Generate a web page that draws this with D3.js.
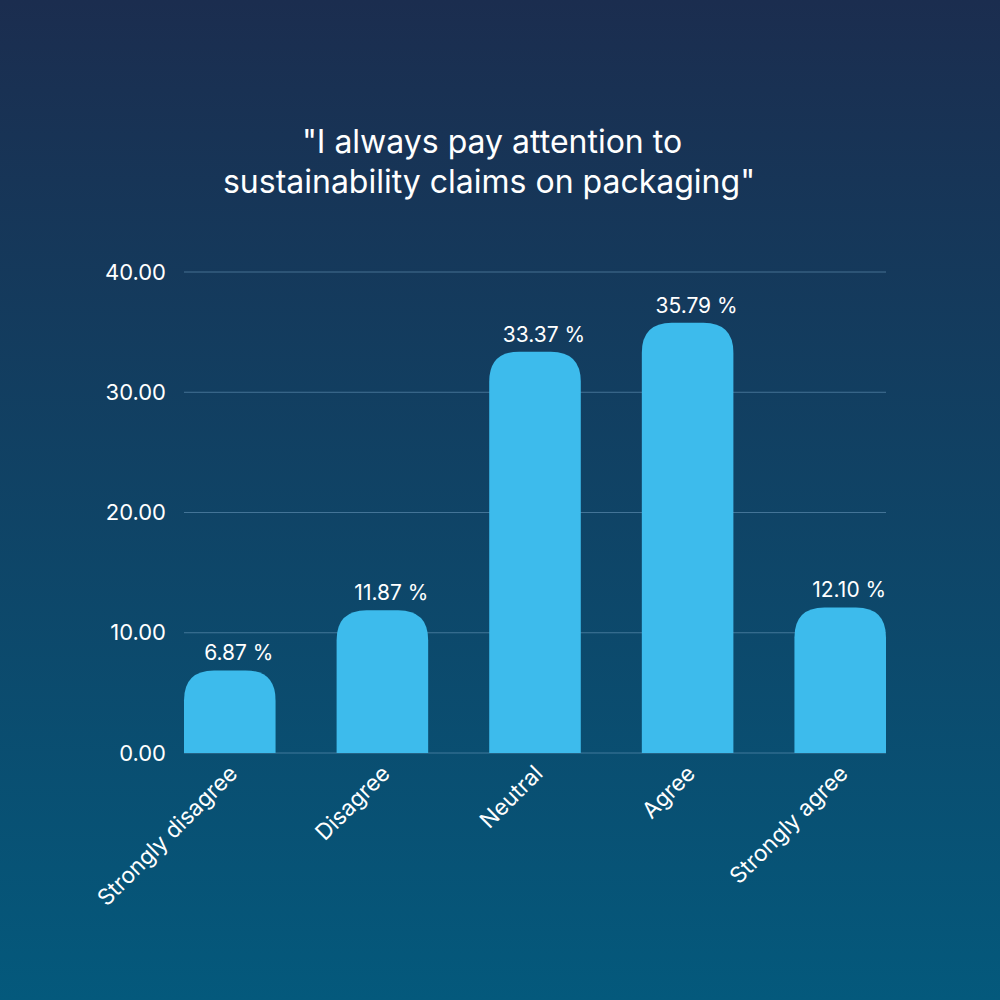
<!DOCTYPE html>
<html>
<head>
    <title>Sustainability claims on packaging</title>
    <script src="https://d3js.org/d3.v7.min.js"></script>
    <style>
        body {
            margin: 0;
            background: #1b2e50;
        }
        svg text {
            font-family: Inter, "Open Sans", sans-serif;
            font-weight: 400;
            fill: #fff;
        }
    </style>
</head>
<body>
    <div id="chart"></div>

    <script>
        // Survey answers and share of respondents (%)
        const categories = ["Strongly disagree", "Disagree", "Neutral", "Agree", "Strongly agree"];
        const shares = [6.87, 11.87, 33.37, 35.79, 12.10];
        const yTicks = [0, 10, 20, 30, 40];
        const titleLines = ["\"I always pay attention to", "sustainability claims on packaging\""];

        const width = 1000;
        const height = 1000;
        const margin = {top: 272, right: 114, bottom: 247, left: 184};

        const svg = d3.select("#chart")
            .append("svg")
            .attr("width", width)
            .attr("height", height);

        // Background gradient
        const grad = svg.append("defs")
            .append("linearGradient")
            .attr("id", "bg")
            .attr("x1", 0).attr("y1", 0)
            .attr("x2", 0).attr("y2", 1);
        grad.append("stop").attr("offset", "0%").attr("stop-color", "#1b2d4f");
        grad.append("stop").attr("offset", "100%").attr("stop-color", "#04597c");

        svg.append("rect")
            .attr("width", width)
            .attr("height", height)
            .attr("fill", "url(#bg)");

        // Title
        svg.append("text")
            .attr("x", width / 2 - 11)
            .attr("y", 153)
            .attr("text-anchor", "middle")
            .style("font-size", "32px")
            .selectAll("tspan")
            .data(titleLines)
            .join("tspan")
            .attr("x", (d, i) => i === 0 ? width / 2 - 8 : width / 2 - 11)
            .attr("dy", (d, i) => i === 0 ? 0 : 40)
            .text(d => d);

        const x = d3.scaleBand()
            .domain(categories)
            .range([margin.left, width - margin.right])
            .paddingInner(0.4)
            .paddingOuter(0);

        const y = d3.scaleLinear()
            .domain([0, 40])
            .range([height - margin.bottom, margin.top]);

        // Gridlines
        svg.append("g")
            .selectAll("line")
            .data(yTicks)
            .join("line")
            .attr("x1", margin.left)
            .attr("x2", width - margin.right)
            .attr("y1", d => y(d))
            .attr("y2", d => y(d))
            .attr("stroke", "#6f9cc0")
            .attr("stroke-opacity", 0.55)
            .attr("stroke-width", 1);

        // Y axis labels
        svg.append("g")
            .selectAll("text")
            .data(yTicks)
            .join("text")
            .attr("x", margin.left - 18)
            .attr("y", d => y(d))
            .attr("dy", "0.35em")
            .attr("text-anchor", "end")
            .style("font-size", "22px")
            .text(d => d3.format(".2f")(d));

        // Bars with rounded tops
        const r = 30;
        function barPath(d, i) {
            const x0 = x(categories[i]);
            const x1 = x0 + x.bandwidth();
            const y0 = y(0);
            const yt = y(d);
            const rr = Math.min(r, (y0 - yt));
            return `M${x0},${y0}V${yt + rr}Q${x0},${yt} ${x0 + rr},${yt}` +
                `H${x1 - rr}Q${x1},${yt} ${x1},${yt + rr}V${y0}Z`;
        }

        svg.append("g")
            .selectAll("path")
            .data(shares)
            .join("path")
            .attr("d", barPath)
            .attr("fill", "#3dbbec");

        // Value labels
        svg.append("g")
            .selectAll("text")
            .data(shares)
            .join("text")
            .attr("x", (d, i) => x(categories[i]) + x.bandwidth() / 2 + 9)
            .attr("y", d => y(d) - 10)
            .attr("text-anchor", "middle")
            .style("font-size", "21px")
            .text(d => d3.format(".2f")(d) + " %");

        // Category labels, rotated
        svg.append("g")
            .selectAll("text")
            .data(categories)
            .join("text")
            .attr("transform", d => `translate(${x(d) + x.bandwidth() / 2 + 9},${y(0) + 22}) rotate(-45)`)
            .attr("text-anchor", "end")
            .style("font-size", "22.5px")
            .text(d => d);
    </script>
</body>
</html>
